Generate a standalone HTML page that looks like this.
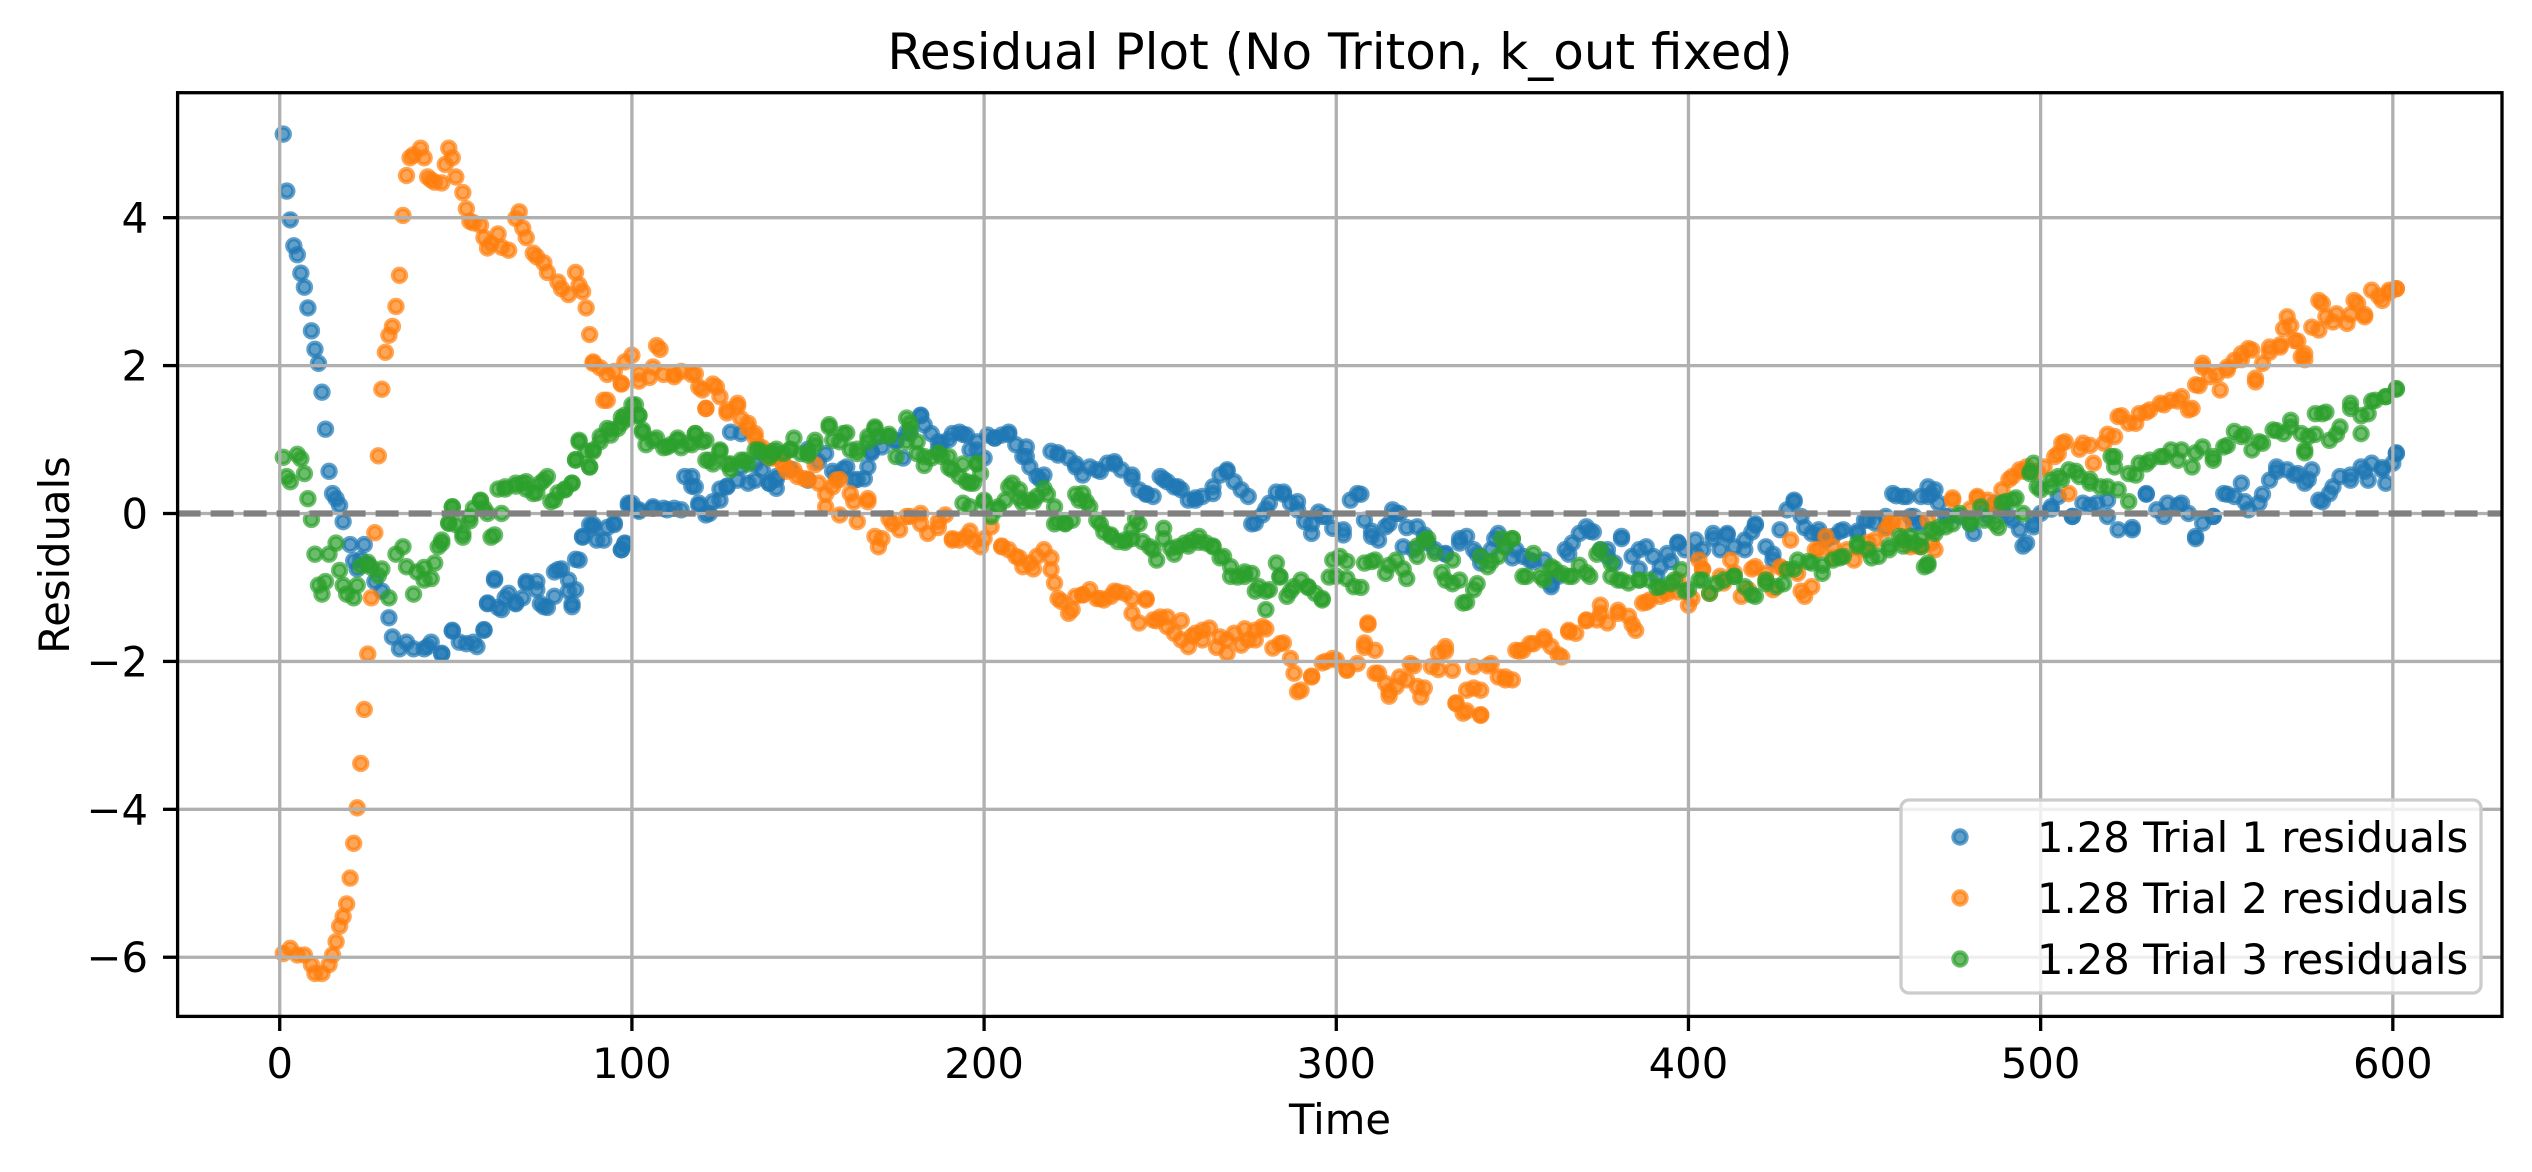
<!DOCTYPE html>
<html><head><meta charset="utf-8"><style>
html,body{margin:0;padding:0;background:#fff;}
svg{display:block;font-family:"DejaVu Sans","Liberation Sans",sans-serif;}
</style></head><body>
<svg id="chart" width="2532" height="1172" viewBox="0 0 2532 1172" xmlns="http://www.w3.org/2000/svg">
<rect x="0" y="0" width="2532" height="1172" fill="#fff"/>
<g id="marks"></g>
<g id="grid"></g>
<g id="zero"></g>
<g id="axes"></g>
<text x="1340" y="69" font-size="50" text-anchor="middle">Residual Plot (No Triton, k_out fixed)</text>
<text x="1340" y="1134" font-size="41.7" text-anchor="middle">Time</text>
<text x="0" y="0" font-size="41.7" text-anchor="middle" transform="translate(69,555) rotate(-90)">Residuals</text>
<g id="legend"></g>
</svg>
<script>
const xTicks=[0,100,200,300,400,500,600];
const yTicks=[-6,-4,-2,0,2,4];
const yTickLabels=["\u22126","\u22124","\u22122","0","2","4"];
const seriesNames=["1.28 Trial 1 residuals","1.28 Trial 2 residuals","1.28 Trial 3 residuals"];
const seriesColors=["#1f77b4","#ff7f0e","#2ca02c"];
const t1=[1,2,3,4,5,6,7,8,9,10,11,12,13,14,15,16,17,18,20,21,22,23,24,25,27,29,31,32,34,36,38,41,43,46,49,51,55,58,59,61,62,64,67,69,70,73,74,76,78,80,82,83,84,86,88,89,90,93,95,97,98,99,100,102,106,109,112,115,117,119,121,123,125,127,128,131,133,135,137,139,141,145,150,153,157,160,164,168,171,175,178,182,187,190,194,198,203,207,212,216,221,226,233,237,242,246,251,255,260,265,269,276,280,285,289,293,296,302,307,310,315,317,320,325,331,335,340,345,350,356,361,366,372,377,381,386,391,395,397,402,407,411,416,419,424,430,433,437,443,448,451,456,459,464,469,473,480,485,491,495,498,503,509,514,519,526,530,535,539,544,549,553,558,563,567,572,576,580,583,588,592,597,601,
141,141,150,155,158,161,163,166,167,168,170,173,175,177,179,182,183,185,187,188,191,193,195,196,198,200,201,203,205,207,209,211,212,213,215,217,219,221,224,226,228,230,232,235,237,239,242,244,246,248,250,252,254,256,258,260,262,265,267,269,271,273,275,277,279,281,283,285,287,289,291,293,295,297,299,
302,304,306,308,310,312,314,316,318,319,322,323,326,328,331,335,337,339,341,344,346,348,351,353,355,359,361,363,365,367,369,371,373,375,377,379,381,384,386,388,390,392,394,397,399,402,404,407,409,411,413,416,418,419,422,424,426,428,430,432,435,437,439,441,444,448,450,453,456,458,462,464,466,468,
461,463,466,468,470,471,474,477,481,484,487,489,492,494,496,498,500,503,505,509,512,516,519,522,526,530,533,536,540,542,544,546,549,552,555,557,559,562,565,567,570,573,575,577,579,582,585,588,591,593,594,597,598,600,601,
42,46,49,53,56,58,59,61,63,65,67,70,73,75,78,79,82,83,84,85,86,89,92,95,97,98,99,102,106,110,114,117,118,119,122,125,127,130,131,135,139];
const v1=[5.13,4.36,3.97,3.62,3.5,3.25,3.06,2.78,2.47,2.22,2.03,1.64,1.14,0.57,0.27,0.2,0.11,-0.11,-0.42,-0.64,-0.75,-0.62,-0.42,-0.69,-0.92,-1.05,-1.41,-1.67,-1.83,-1.74,-1.83,-1.83,-1.74,-1.9,-1.59,-1.74,-1.74,-1.57,-1.22,-0.88,-1.27,-1.14,-1.22,-1.14,-0.92,-0.92,-1.22,-1.27,-0.79,-0.75,-1.05,-1.22,-0.62,-0.32,-0.15,-0.15,-0.36,-0.19,-0.15,-0.49,-0.41,0.11,0.14,0.03,0.07,0.07,0.07,0.5,0.37,0.11,-0.02,0.16,0.33,0.37,1.1,0.63,0.41,0.67,0.59,0.41,0.46,0.6,0.87,0.7,0.57,0.6,0.46,0.82,0.9,0.97,1.1,1.32,0.87,1.0,1.07,0.97,1.02,1.07,0.77,0.46,0.82,0.67,0.57,0.67,0.52,0.26,0.46,0.36,0.21,0.36,0.57,-0.14,0.06,0.26,0.16,-0.14,-0.04,-0.29,0.26,-0.24,-0.14,0,-0.19,-0.29,-0.55,-0.34,-0.55,-0.34,-0.6,-0.65,-0.95,-0.55,-0.24,-0.49,-0.34,-0.75,-0.85,-0.65,-0.39,-0.55,-0.34,-0.29,-0.49,-0.14,-0.55,0.16,-0.19,-0.29,-0.24,-0.24,-0.09,-0.19,0.24,-0.14,0.26,-0.04,-0.14,-0.04,-0.04,-0.44,-0.14,0.06,-0.04,0.11,-0.04,-0.19,0.26,-0.04,0.11,-0.34,-0.04,0.26,0.16,0.26,0.57,0.52,0.46,0.16,0.36,0.52,0.57,0.62,0.82,
0.5,0.34,0.45,0.81,0.52,0.63,0.45,0.47,0.63,0.84,1.04,1.04,0.99,0.75,1.08,1.33,1.2,1.08,0.97,0.95,1.08,1.1,1.06,0.86,0.86,0.75,1.06,1.02,1.06,1.1,0.93,0.77,0.9,0.63,0.5,0.52,0.84,0.79,0.75,0.63,0.52,0.63,0.59,0.68,0.7,0.59,0.47,0.32,0.27,0.23,0.5,0.43,0.36,0.32,0.18,0.18,0.23,0.27,0.52,0.59,0.43,0.32,0.23,-0.13,-0.02,0.14,0.29,0.29,0.14,0.05,-0.11,-0.27,0.02,-0.04,-0.2,
-0.22,0.18,0.27,-0.09,-0.31,-0.36,-0.18,0.05,0,-0.45,-0.49,-0.18,-0.4,-0.49,-0.54,-0.4,-0.31,-0.49,-0.67,-0.49,-0.27,-0.45,-0.49,-0.58,-0.63,-0.63,-0.99,-0.85,-0.49,-0.4,-0.27,-0.18,-0.25,-0.49,-0.58,-0.67,-0.31,-0.58,-0.49,-0.45,-0.58,-0.72,-0.54,-0.4,-0.49,-0.36,-0.49,-0.27,-0.49,-0.27,-0.45,-0.36,-0.25,-0.16,-0.45,-0.63,-0.22,0.05,0.18,-0.04,-0.27,-0.22,-0.36,-0.31,-0.22,-0.27,-0.09,-0.13,-0.04,0.27,0.23,-0.04,0.23,0.36,
0.23,-0.04,-0.13,0.23,0.32,0.14,-0.04,-0.04,-0.27,0.05,0.14,0.05,-0.09,-0.22,-0.4,-0.18,0,0.09,0.23,-0.04,0.14,0.14,0.18,-0.22,-0.22,0.27,0.05,0.14,0.14,0,-0.31,-0.13,-0.04,0.27,0.23,0.41,0.05,0.14,0.45,0.63,0.59,0.54,0.41,0.59,0.18,0.27,0.5,0.45,0.63,0.45,0.68,0.59,0.41,0.68,0.81,
-1.8,-1.89,-1.58,-1.76,-1.8,-1.58,-1.21,-0.9,-1.3,-1.08,-1.21,-0.94,-1.03,-1.26,-1.12,-0.76,-0.9,-1.26,-1.03,-0.63,-0.31,-0.18,-0.36,-0.13,-0.49,-0.4,0.14,0.05,0.09,0.05,0.05,0.5,0.36,0.14,0,0.18,0.36,0.45,1.08,0.45,0.41];
const t2=[1,3,5,7,9,10,12,14,15,16,17,18,19,20,21,22,23,24,25,26,27,28,29,30,31,32,33,34,35,36,37,38,40,41,42,43,44,46,47,48,49,50,52,53,54,55,57,58,59,60,62,63,65,67,68,69,70,72,73,75,76,79,80,82,84,85,86,87,88,89,91,92,93,95,97,98,100,102,105,107,108,109,112,114,117,119,121,123,125,127,130,131,133,135,137,139,141,144,150,155,157,159,163,167,171,174,178,182,187,191,196,200,205,210,214,219,221,225,228,233,237,242,246,249,252,256,259,262,266,269,274,277,280,284,287,289,293,297,303,308,309,311,315,318,322,325,329,331,334,337,339,341,343,348,352,355,359,363,366,371,375,380,384,388,393,397,401,404,409,413,418,422,427,432,436,441,445,451,457,461,465,468,475,480,482,487,491,495,499,504,507,511,514,519,523,527,530,535,539,543,545,546,550,553,557,559,561,565,568,571,573,575,579,580,583,588,590,592,596,599,601,
140,143,146,149,152,153,155,158,159,162,164,167,169,170,173,176,179,182,184,187,189,191,193,195,197,199,202,205,207,209,211,213,215,217,219,220,222,224,226,228,230,232,234,236,238,240,242,244,246,248,250,252,254,256,258,260,262,264,267,269,271,273,275,277,279,282,285,288,290,293,296,299,
300,303,306,308,309,311,312,314,315,317,320,321,323,324,327,329,331,333,334,336,337,339,341,341,344,346,348,350,351,353,356,359,361,364,366,368,371,374,375,377,380,383,385,387,389,392,394,397,400,403,404,406,410,412,415,417,419,422,424,426,429,431,433,435,437,439,441,443,447,450,453,456,458,461,463,466,469,
470,475,482,485,489,492,494,496,501,505,506,508,512,515,518,521,522,525,528,531,534,537,540,542,544,546,548,551,553,555,557,560,561,563,565,568,569,570,572,574,575,577,579,581,584,587,589,592,594,597,599,601,
89,93,97,102,106,112,118,120,121,124,127,130,133,135,136,139,143,147];
const v2=[-5.95,-5.88,-5.97,-5.97,-6.1,-6.22,-6.22,-6.1,-5.97,-5.79,-5.58,-5.45,-5.28,-4.93,-4.46,-3.98,-3.38,-2.65,-1.9,-1.14,-0.26,0.78,1.68,2.18,2.41,2.53,2.8,3.22,4.03,4.57,4.81,4.85,4.94,4.81,4.55,4.51,4.48,4.47,4.72,4.94,4.81,4.55,4.34,4.12,3.95,3.93,3.9,3.73,3.59,3.65,3.78,3.6,3.56,3.99,4.08,3.86,3.73,3.52,3.47,3.39,3.26,3.13,3.04,2.96,3.26,3.09,3.0,2.78,2.42,2.05,1.97,1.53,1.88,1.92,1.75,2.05,2.14,1.79,1.84,2.27,2.22,1.88,1.88,1.92,1.88,1.71,1.42,1.75,1.58,1.36,1.45,1.28,1.15,1.02,0.89,0.76,0.77,0.57,0.46,0.26,0.36,0.46,0.16,0.16,-0.34,-0.14,-0.04,-0.14,-0.19,-0.34,-0.24,-0.34,-0.44,-0.6,-0.75,-0.6,-1.15,-1.3,-1.1,-1.15,-1.05,-1.15,-1.15,-1.45,-1.4,-1.45,-1.66,-1.71,-1.81,-1.71,-1.56,-1.71,-1.56,-1.76,-1.96,-2.41,-2.21,-2.0,-2.11,-1.81,-1.5,-2.16,-2.41,-2.21,-2.06,-2.36,-2.11,-1.86,-2.56,-2.67,-2.36,-2.72,-2.06,-2.21,-1.86,-1.76,-1.71,-1.91,-1.6,-1.45,-1.35,-1.35,-1.5,-1.2,-1.05,-0.9,-1.15,-0.75,-0.85,-0.8,-0.75,-0.9,-0.75,-1.05,-0.49,-0.6,-0.49,-0.39,-0.14,-0.14,-0.44,-0.09,0.21,0.06,0.21,0.11,0.46,0.57,0.57,0.77,0.97,0.87,0.92,1.07,1.32,1.22,1.37,1.47,1.52,1.42,1.73,1.98,1.88,1.98,2.08,2.23,1.83,2.18,2.28,2.54,2.33,2.08,2.48,2.84,2.59,2.69,2.84,2.69,2.94,2.99,3.04,
0.75,0.66,0.59,0.47,0.66,0.41,0.09,0.45,-0.02,0.27,-0.11,0.2,-0.31,-0.45,-0.07,-0.22,-0.04,0,-0.27,-0.11,-0.02,-0.36,-0.36,-0.31,-0.38,-0.45,-0.18,-0.45,-0.49,-0.58,-0.72,-0.67,-0.58,-0.49,-0.76,-0.94,-1.19,-1.35,-1.12,-1.1,-1.03,-1.15,-1.17,-1.12,-1.06,-1.08,-1.35,-1.48,-1.17,-1.44,-1.4,-1.53,-1.62,-1.71,-1.8,-1.62,-1.58,-1.55,-1.67,-1.89,-1.62,-1.78,-1.71,-1.58,-1.53,-1.82,-1.75,-2.16,-2.39,-2.2,-2.02,-1.96,
-1.98,-2.12,-2.03,-1.75,-1.48,-1.85,-2.16,-2.3,-2.47,-2.34,-2.25,-2.03,-2.34,-2.48,-2.07,-1.89,-1.8,-2.12,-2.57,-2.7,-2.39,-2.07,-2.39,-2.73,-2.03,-2.21,-2.25,-2.25,-1.85,-1.85,-1.76,-1.67,-1.8,-1.94,-1.58,-1.62,-1.44,-1.44,-1.24,-1.48,-1.31,-1.39,-1.58,-1.21,-1.17,-1.12,-1.08,-1.06,-1.24,-0.63,-0.76,-1.08,-0.94,-0.63,-1.12,-1.03,-0.72,-0.81,-1.03,-0.72,-0.36,-0.81,-1.12,-0.99,-0.49,-0.31,-0.45,-0.58,-0.63,-0.49,-0.36,-0.22,-0.11,-0.36,-0.45,-0.45,-0.4,
-0.49,0.18,0.23,0.18,0.32,0.5,0.59,0.63,0.63,0.81,0.95,0.27,0.95,0.68,0.95,1.04,1.31,1.22,1.35,1.4,1.49,1.53,1.58,1.4,1.74,2.03,1.85,1.67,1.94,2.07,2.16,2.21,1.78,2.03,2.25,2.25,2.5,2.66,2.34,2.12,2.16,2.52,2.88,2.66,2.7,2.57,2.88,2.66,3.02,2.88,3.02,3.04,
2.03,1.53,1.76,1.89,1.98,1.85,1.89,1.67,1.42,1.71,1.4,1.49,1.22,1.08,0.9,0.77,0.68,0.5];
const t3=[1,2,3,5,6,7,8,9,10,11,12,13,14,16,17,18,19,21,22,23,25,26,28,29,31,33,35,36,38,39,41,43,45,46,48,49,50,52,54,55,57,58,60,62,64,67,69,70,73,74,76,77,79,81,83,84,85,87,88,89,91,93,94,96,97,99,101,102,103,104,107,109,111,113,114,117,118,120,121,123,125,127,128,131,133,135,137,139,141,145,150,152,156,159,161,164,167,169,173,178,179,181,183,187,190,194,196,198,200,204,207,210,214,218,220,223,226,229,233,236,240,242,244,248,251,254,258,261,265,267,270,274,277,280,284,287,292,296,300,303,307,310,315,319,323,326,330,333,337,340,344,347,350,354,358,362,366,371,374,378,381,386,391,395,399,404,408,413,418,422,427,430,434,438,443,448,452,457,461,466,468,471,475,480,484,488,490,493,497,499,503,506,510,514,519,521,525,527,530,535,539,544,549,553,558,562,567,571,575,578,581,584,588,591,594,598,601,
140,143,146,148,150,152,156,157,160,162,164,167,169,170,173,175,178,179,181,183,185,188,190,191,193,195,197,198,199,194,196,200,202,204,206,208,210,211,213,215,217,220,221,223,225,227,228,230,232,234,236,238,240,242,243,245,247,249,251,253,255,257,259,261,263,265,268,270,272,274,276,278,280,281,283,284,286,288,290,292,294,296,298,299,
301,303,305,308,311,314,317,320,323,325,328,331,333,335,336,339,341,343,346,348,350,353,356,359,361,364,367,369,372,375,378,380,383,386,389,392,396,398,400,403,406,410,413,416,419,422,425,428,431,435,438,441,444,448,451,454,457,461,463,466,467,469,
460,464,468,470,473,477,480,483,487,489,492,495,497,498,500,503,505,508,511,514,517,520,521,522,525,528,531,534,537,540,543,546,549,552,555,557,560,563,566,569,571,574,575,576,578,580,582,585,588,591,593,595,598,601,
41,44,46,48,49,52,54,57,59,61,63,64,67,70,72,75,78,81,83,84,85,88,89,91,94,97,98,100,102,103,106,110,113,116,118,121,122,125,128,132,136,140,145];
const v3=[0.76,0.5,0.43,0.8,0.74,0.54,0.2,-0.08,-0.55,-0.97,-1.09,-0.92,-0.55,-0.4,-0.77,-0.97,-1.09,-1.14,-0.97,-0.71,-0.66,-0.73,-0.84,-0.75,-1.14,-0.55,-0.45,-0.72,-1.09,-0.79,-0.73,-0.88,-0.45,-0.36,-0.13,0.09,-0.15,-0.32,-0.1,0.07,0.17,0.07,-0.32,0.33,0.33,0.37,0.41,0.33,0.28,0.41,0.5,0.16,0.28,0.33,0.41,0.73,0.97,0.84,0.63,0.84,0.97,1.15,1.06,1.15,1.3,1.28,1.47,1.32,1.1,0.93,1.02,0.89,0.93,1.02,0.89,0.93,1.08,0.97,0.72,0.67,0.84,0.67,0.67,0.72,0.67,0.86,0.82,0.76,0.87,0.87,0.82,0.92,1.17,0.97,1.09,0.87,0.97,1.15,1.07,0.97,1.22,0.97,0.77,0.82,0.62,0.67,0.41,0.67,0.16,0.06,0.36,0.21,0.16,0.26,-0.14,-0.14,0.26,0.16,-0.14,-0.29,-0.39,-0.34,-0.14,-0.49,-0.34,-0.55,-0.44,-0.39,-0.44,-0.6,-0.85,-0.85,-1.05,-1.05,-0.85,-1.05,-1.0,-1.15,-0.85,-0.65,-1.0,-0.65,-0.7,-0.75,-0.44,-0.34,-0.8,-0.95,-1.2,-0.95,-0.65,-0.34,-0.34,-0.85,-0.85,-0.75,-0.85,-0.8,-0.55,-0.85,-0.9,-0.9,-1.0,-0.95,-1.05,-0.9,-0.95,-0.85,-1.1,-0.95,-0.95,-0.75,-0.65,-0.7,-0.6,-0.44,-0.6,-0.44,-0.44,-0.34,-0.7,-0.19,-0.14,-0.14,-0.09,-0.19,0.16,0.21,0.57,0.36,0.36,0.46,0.57,0.46,0.36,0.77,0.16,0.52,0.67,0.77,0.72,0.82,0.77,0.92,1.07,0.97,1.12,1.17,0.82,1.07,1.37,1.07,1.42,1.32,1.52,1.58,1.68,
0.84,0.81,1.02,0.81,0.79,0.99,1.2,0.99,1.08,0.86,0.81,1.04,1.17,1.04,1.04,0.77,1.29,1.13,0.81,0.65,0.75,0.77,0.77,0.59,0.5,0.43,0.41,0.68,0.54,0.14,0.09,0.18,-0.04,0.09,0.18,0.41,0.32,0.14,0.18,0.23,0.34,0.09,-0.11,-0.13,-0.09,0.18,0.27,0.09,-0.09,-0.25,-0.31,-0.38,-0.36,-0.22,-0.07,-0.38,-0.45,-0.63,-0.2,-0.47,-0.45,-0.4,-0.36,-0.31,-0.4,-0.45,-0.58,-0.72,-0.86,-0.79,-0.81,-0.99,-1.3,-1.03,-0.67,-0.86,-1.12,-0.99,-0.9,-0.99,-1.08,-1.17,-0.86,-0.63,
-0.58,-0.88,-0.99,-0.67,-0.63,-0.81,-0.63,-0.88,-0.58,-0.36,-0.54,-0.9,-0.63,-0.9,-1.21,-1.03,-0.58,-0.72,-0.58,-0.45,-0.34,-0.85,-0.54,-0.9,-0.72,-0.81,-0.85,-0.7,-0.85,-0.49,-0.67,-0.9,-0.94,-0.9,-0.9,-0.99,-0.9,-0.76,-1.03,-0.9,-1.08,-0.9,-0.85,-0.99,-1.12,-0.9,-0.99,-0.76,-0.63,-0.67,-0.81,-0.63,-0.58,-0.4,-0.49,-0.58,-0.49,-0.36,-0.31,-0.45,-0.72,-0.22,
-0.31,-0.4,-0.67,-0.27,-0.18,0,-0.09,0.09,-0.13,0.14,0.18,0,0.54,0.68,0.32,0.45,0.5,0.59,0.5,0.41,0.36,0.77,0.63,0.32,0.54,0.68,0.72,0.77,0.86,0.86,0.63,0.9,0.72,0.9,1.11,1.04,0.86,0.95,1.13,1.08,1.26,1.08,0.86,1.04,1.35,1.35,0.99,1.17,1.49,1.08,1.35,1.53,1.58,1.69,
-0.9,-0.67,-0.4,-0.13,0.09,-0.27,-0.04,0.18,0,-0.29,0,0.36,0.41,0.43,0.27,0.45,0.18,0.32,0.41,0.72,0.99,0.63,0.86,1.04,1.13,1.22,1.33,1.47,1.33,1.13,0.99,0.9,0.99,0.95,1.08,0.99,0.72,0.86,0.59,0.72,0.86,0.81,0.86];

const X0=177.6,X1=2502,Y0=1016.4,Y1=92.7;
const xMin=-29,xMax=631,yMin=-6.8,yMax=5.69;
function xs(t){return X0+(t-xMin)/(xMax-xMin)*(X1-X0);}
function ys(v){return Y0-(v-yMin)/(yMax-yMin)*(Y0-Y1);}
const NS="http://www.w3.org/2000/svg";
function mk(tag,attrs,parent){const e=document.createElementNS(NS,tag);for(const k in attrs)e.setAttribute(k,attrs[k]);parent.appendChild(e);return e;}

const grid=document.getElementById('grid');
xTicks.forEach(t=>{const l=mk('line',{x1:xs(t),x2:xs(t),y1:Y1,y2:Y0,stroke:'#b0b0b0','stroke-width':3.3},grid);

});
yTicks.forEach(v=>{const l=mk('line',{x1:X0,x2:X1,y1:ys(v),y2:ys(v),stroke:'#b0b0b0','stroke-width':3.3},grid);

});

const marks=document.getElementById('marks');
const allT=[t1,t2,t3],allV=[v1,v2,v3];
allT.forEach((ts,si)=>{
  const g=mk('g',{},marks);
  
  
  ts.forEach((t,i)=>{
    const c=mk('circle',{cx:xs(t),cy:ys(allV[si][i]),r:6.6,fill:seriesColors[si],'fill-opacity':0.7,stroke:seriesColors[si],'stroke-opacity':0.7,'stroke-width':4.2},g);
    
    
  });
});

const zero=document.getElementById('zero');
const zl=mk('line',{x1:X0,x2:X1,y1:ys(0),y2:ys(0),stroke:'#808080','stroke-width':6.25,'stroke-dasharray':'23 10'},zero);



const axes=document.getElementById('axes');
const fr=mk('rect',{x:X0,y:Y1,width:X1-X0,height:Y0-Y1,fill:'none',stroke:'#000','stroke-width':3.3},axes);


xTicks.forEach(t=>{
  const tk=mk('line',{x1:xs(t),x2:xs(t),y1:Y0,y2:Y0+14.6,stroke:'#000','stroke-width':3.3},axes);
  
  
  const tx=mk('text',{x:xs(t),y:1078,'font-size':41.7,'text-anchor':'middle'},axes);
  tx.textContent=String(t);
  
  
});
yTicks.forEach((v,i)=>{
  const tk=mk('line',{x1:X0-14.6,x2:X0,y1:ys(v),y2:ys(v),stroke:'#000','stroke-width':3.3},axes);
  
  
  const tx=mk('text',{x:148,y:ys(v)+15,'font-size':41.7,'text-anchor':'end'},axes);
  tx.textContent=yTickLabels[i];
  
  
});

const lg=document.getElementById('legend');
const box=mk('rect',{x:1901,y:800,width:580,height:193,rx:8,ry:8,fill:'#fff','fill-opacity':0.8,stroke:'#cccccc','stroke-width':3.3},lg);


seriesNames.forEach((n,i)=>{
  const cy=837+i*61;
  const g=mk('g',{},lg);
  
  
  const c=mk('circle',{cx:1960,cy:cy,r:6.6,fill:seriesColors[i],'fill-opacity':0.7,stroke:seriesColors[i],'stroke-opacity':0.7,'stroke-width':4.2},g);
  
  
  const tx=mk('text',{x:2037,y:cy+15,'font-size':41.7},g);
  tx.textContent=n;
  
  
});
</script>
</body></html>
